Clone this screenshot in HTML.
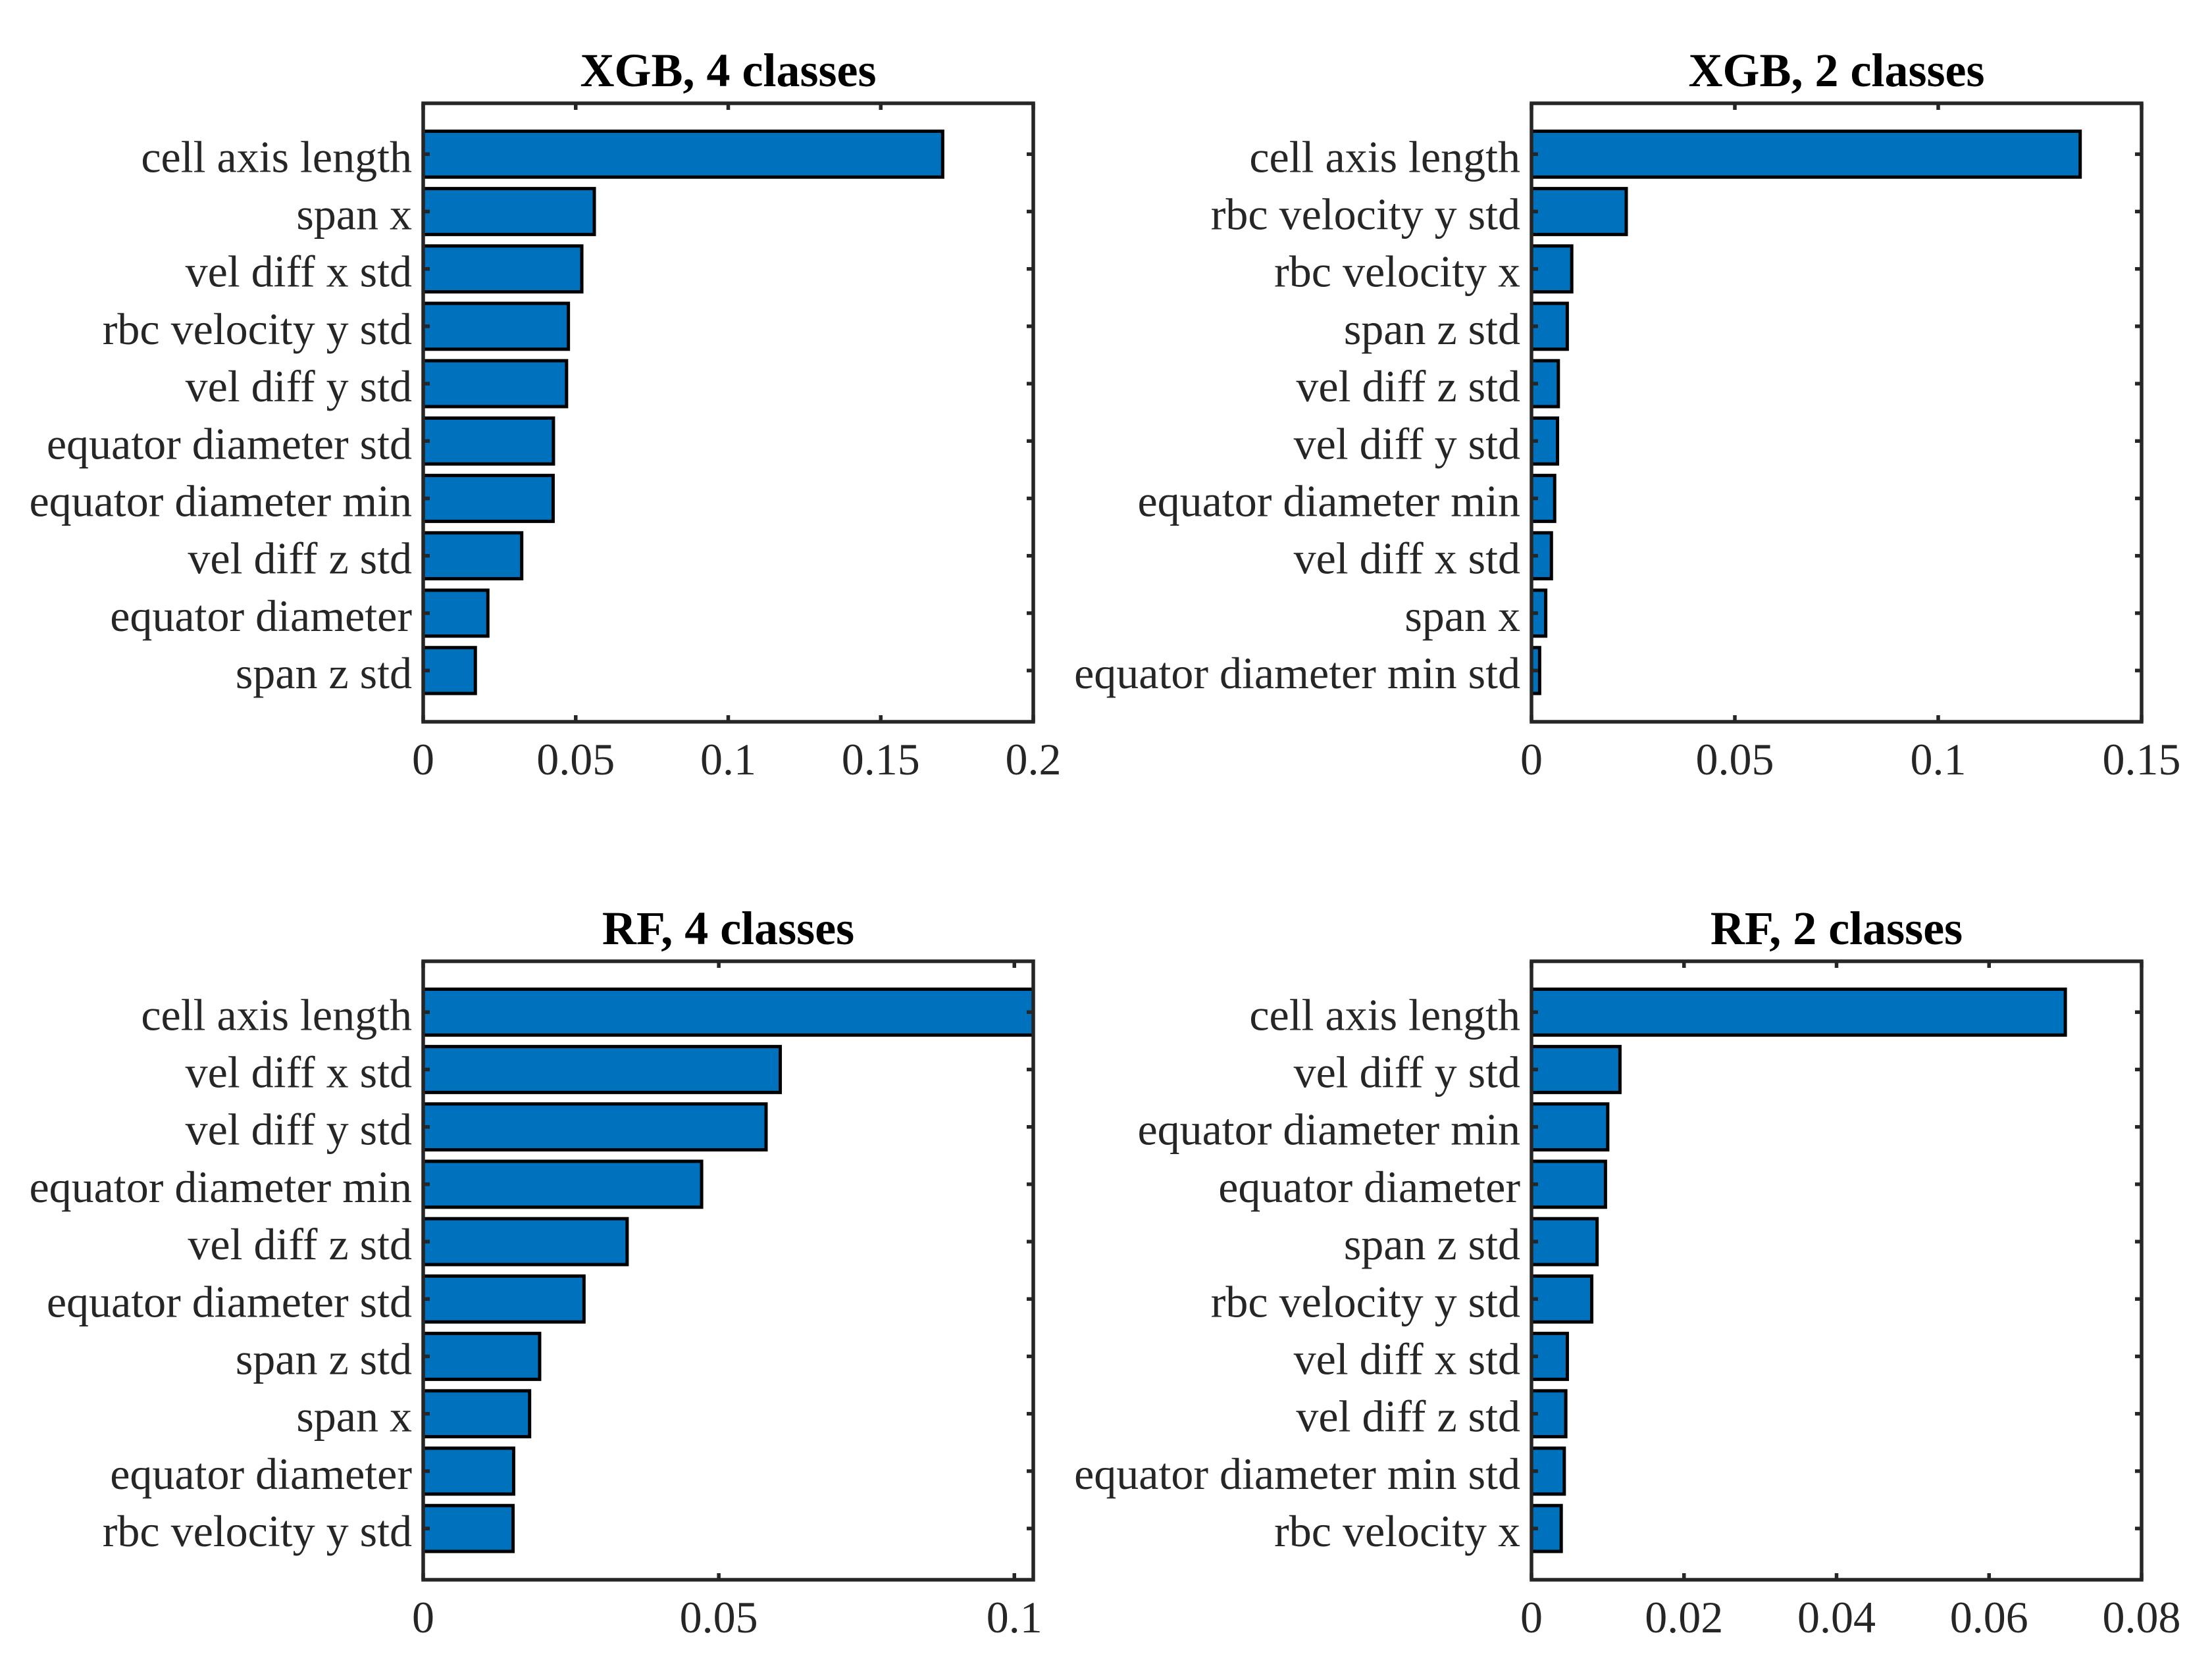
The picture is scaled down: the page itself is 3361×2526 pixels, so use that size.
<!DOCTYPE html>
<html><head><meta charset="utf-8"><style>
html,body{margin:0;padding:0;background:#fff;}
svg{display:block;}
</style></head><body>
<svg id="fig" width="3361" height="2526" viewBox="0 0 3361 2526" xmlns="http://www.w3.org/2000/svg"></svg>
<script>
// ---- data ----
const tlTitle = "XGB, 4 classes";
const tlCategories = ["cell axis length","span x","vel diff x std","rbc velocity y std","vel diff y std","equator diameter std","equator diameter min","vel diff z std","equator diameter","span z std"];
const tlValues = [0.1703,0.0561,0.0520,0.0476,0.0470,0.0427,0.0426,0.0323,0.0212,0.0171];
const tlTicks = [0,0.05,0.1,0.15,0.2];
const tlTickLabels = ["0","0.05","0.1","0.15","0.2"];
const tlMax = 0.2;

const trTitle = "XGB, 2 classes";
const trCategories = ["cell axis length","rbc velocity y std","rbc velocity x","span z std","vel diff z std","vel diff y std","equator diameter min","vel diff x std","span x","equator diameter min std"];
const trValues = [0.1349,0.0233,0.0099,0.0088,0.0066,0.0064,0.0057,0.0049,0.0035,0.0020];
const trTicks = [0,0.05,0.1,0.15];
const trTickLabels = ["0","0.05","0.1","0.15"];
const trMax = 0.15;

const blTitle = "RF, 4 classes";
const blCategories = ["cell axis length","vel diff x std","vel diff y std","equator diameter min","vel diff z std","equator diameter std","span z std","span x","equator diameter","rbc velocity y std"];
const blValues = [0.1100,0.0604,0.0580,0.0471,0.0345,0.0272,0.0197,0.0180,0.0153,0.0152];
const blTicks = [0,0.05,0.1];
const blTickLabels = ["0","0.05","0.1"];
const blMax = 0.1032;

const brTitle = "RF, 2 classes";
const brCategories = ["cell axis length","vel diff y std","equator diameter min","equator diameter","span z std","rbc velocity y std","vel diff x std","vel diff z std","equator diameter min std","rbc velocity x"];
const brValues = [0.0700,0.0116,0.0100,0.0097,0.0086,0.0079,0.0047,0.0045,0.0043,0.0039];
const brTicks = [0,0.02,0.04,0.06,0.08];
const brTickLabels = ["0","0.02","0.04","0.06","0.08"];
const brMax = 0.08;

const NS = "http://www.w3.org/2000/svg";
const fig = document.getElementById('fig');
function mk(tag, attrs, parent){
  const e = document.createElementNS(NS, tag);
  for (const k in attrs) e.setAttribute(k, attrs[k]);
  parent.appendChild(e);
  return e;
}
const FONT = '"Liberation Serif", "Times New Roman", serif';

function panel(key, left, top, title, cats, vals, ticks, tickLabels, xmax){
  const W = 927, H = 940, right = left + W, bottom = top + H;
  const g = mk('g', {}, fig);
  
  
  const xs = v => left + Math.min(v, xmax) / xmax * W;
  const step = 87.2, firstOff = 77.3;
  const ys = i => top + firstOff + i * step;
  const clipId = key + '-clip';
  const cp = mk('clipPath', {id: clipId}, g);
  mk('rect', {x: left, y: top, width: W, height: H}, cp);
  const bars = mk('g', {'clip-path': 'url(#' + clipId + ')'}, g);
  
  
  const bh = step * 0.8;
  vals.forEach((v, i) => {
    const x1 = xs(v);
    const r = mk('rect', {x: left, y: ys(i) - bh/2, width: Math.max(0, x1 - left), height: bh, fill: '#0072BD', stroke: '#000', 'stroke-width': 5}, bars);
    
    
  });
  const box = mk('rect', {x: left, y: top, width: W, height: H, fill: 'none', stroke: '#262626', 'stroke-width': 5.5}, g);
  
  
  cats.forEach((c, i) => {
    const y = ys(i);
    mk('line', {x1: left, y1: y, x2: left + 10, y2: y, stroke: '#262626', 'stroke-width': 5.5}, g);
    mk('line', {x1: right - 10, y1: y, x2: right, y2: y, stroke: '#262626', 'stroke-width': 5.5}, g);
    const t = mk('text', {x: left - 17, y: y + 27, 'text-anchor': 'end', 'font-family': FONT, 'font-size': 68, fill: '#262626'}, g);
    t.textContent = c;
    
    
  });
  ticks.forEach((v, i) => {
    const x = xs(v);
    mk('line', {x1: x, y1: bottom, x2: x, y2: bottom - 10, stroke: '#262626', 'stroke-width': 5.5}, g);
    mk('line', {x1: x, y1: top, x2: x, y2: top + 10, stroke: '#262626', 'stroke-width': 5.5}, g);
    const t = mk('text', {x: x, y: bottom + 80, 'text-anchor': 'middle', 'font-family': FONT, 'font-size': 68, fill: '#262626'}, g);
    t.textContent = tickLabels[i];
    
    
  });
  const tt = mk('text', {x: left + W/2, y: top - 26, 'text-anchor': 'middle', 'font-family': FONT, 'font-size': 72, 'font-weight': 'bold', fill: '#000'}, g);
  tt.textContent = title;
  
  
}

panel('xgb-4-classes', 643, 157, tlTitle, tlCategories, tlValues, tlTicks, tlTickLabels, tlMax);
panel('xgb-2-classes', 2327, 157, trTitle, trCategories, trValues, trTicks, trTickLabels, trMax);
panel('rf-4-classes', 643, 1461, blTitle, blCategories, blValues, blTicks, blTickLabels, blMax);
panel('rf-2-classes', 2327, 1461, brTitle, brCategories, brValues, brTicks, brTickLabels, brMax);
</script>
</body></html>
